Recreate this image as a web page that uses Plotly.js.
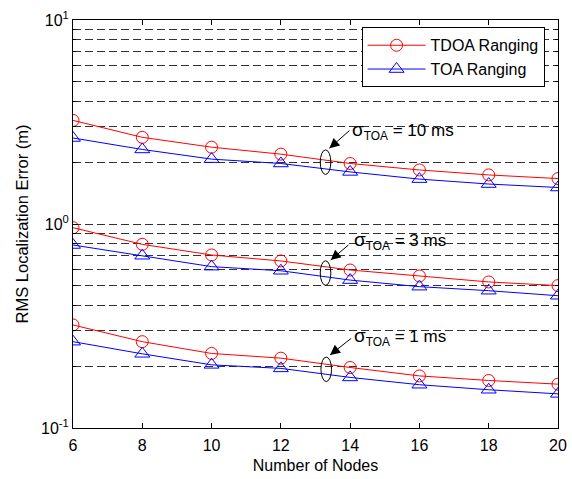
<!DOCTYPE html>
<html>
<head>
<meta charset="utf-8">
<script src="https://cdn.plot.ly/plotly-3.0.1.min.js"></script>
<style>html,body{margin:0;padding:0;background:#fff;}#chart{width:572px;height:479px;}</style>
</head>
<body>
<div id="chart"></div>
<script>
// Data
const nodes = [6, 8, 10, 12, 14, 16, 18, 20];

const tdoa10 = [3.22, 2.66, 2.38, 2.20, 1.98, 1.84, 1.74, 1.67];
const toa10  = [2.64, 2.32, 2.08, 1.98, 1.80, 1.66, 1.57, 1.51];
const tdoa3  = [0.959, 0.795, 0.705, 0.659, 0.595, 0.556, 0.520, 0.499];
const toa3   = [0.789, 0.699, 0.618, 0.590, 0.531, 0.493, 0.471, 0.445];
const tdoa1  = [0.320, 0.265, 0.232, 0.220, 0.198, 0.180, 0.171, 0.164];
const toa1   = [0.265, 0.231, 0.204, 0.196, 0.177, 0.163, 0.154, 0.147];

const xTicks = [6, 8, 10, 12, 14, 16, 18, 20];
const yMajor = [0.1, 1, 10];
const yMajorText = ['10<sup>-1</sup>', '10<sup>0</sup>', '10<sup>1</sup>'];
const yMinor = [0.2,0.3,0.4,0.5,0.6,0.7,0.8,0.9,2,3,4,5,6,7,8,9];

// sigma annotations: labels, ellipse centres, arrow tips/tails, text positions
const sigmaLabels = ['10 ms', '3 ms', '1 ms'];
const ellX = [13.29, 13.29, 13.31];
const ellY = [2.01, 0.575, 0.194];
const tipX = [13.40, 13.44, 13.42];
const tipY = [2.35, 0.666, 0.228];
const tailX = [13.98, 13.95, 14.03];
const tailY = [2.87, 0.789, 0.275];
const textX = [14.0, 14.05, 14.05];
const textY = [2.85, 0.83, 0.279];

const FONT = 'Liberation Sans, Arial, Helvetica, sans-serif';

function series(y, isTdoa, show) {
  const c = isTdoa ? '#ff0000' : '#0000ff';
  return {
    x: nodes, y: y, type: 'scatter', mode: 'lines+markers',
    name: isTdoa ? 'TDOA Ranging' : 'TOA Ranging',
    showlegend: show,
    legendgroup: isTdoa ? 'tdoa' : 'toa',
    line: {color: c, width: 1},
    marker: {
      symbol: isTdoa ? 'circle-open' : 'triangle-up-open',
      size: isTdoa ? 12 : 13,
      color: c,
      line: {width: 1, color: c}
    }
  };
}

const data = [
  series(tdoa10, true, true), series(toa10, false, true),
  series(tdoa3, true, false), series(toa3, false, false),
  series(tdoa1, true, false), series(toa1, false, false)
];

// ellipse half-sizes (approx 5 px wide, 12 px tall half-axes)
const ellHalfX = 0.153;
const ellFactor = Math.pow(10, 0.06);

const shapes = [];
const annotations = [];
for (let i = 0; i < sigmaLabels.length; i++) {
  shapes.push({
    type: 'circle', xref: 'x', yref: 'y',
    x0: ellX[i] - ellHalfX, x1: ellX[i] + ellHalfX,
    y0: ellY[i] / ellFactor, y1: ellY[i] * ellFactor,
    line: {color: '#000', width: 1}
  });
  // arrow shaft
  shapes.push({
    type: 'line', xref: 'x', yref: 'y',
    x0: tailX[i], y0: tailY[i], x1: tipX[i], y1: tipY[i],
    line: {color: '#000', width: 1}
  });
  // arrow head (short arrow along the same direction)
  const hx = tipX[i] + 0.3 * (tailX[i] - tipX[i]);
  const hy = Math.log10(tipY[i]) + 0.3 * (Math.log10(tailY[i]) - Math.log10(tipY[i]));
  annotations.push({
    x: tipX[i], y: Math.log10(tipY[i]), xref: 'x', yref: 'y',
    axref: 'x', ayref: 'y', ax: hx, ay: hy,
    text: ' ', font: {size: 1}, borderpad: 0,
    showarrow: true, arrowhead: 2, arrowsize: 2, arrowwidth: 1,
    arrowcolor: '#000', standoff: 0
  });
  annotations.push({
    x: textX[i], y: Math.log10(textY[i]), xref: 'x', yref: 'y',
    text: '<span style="font-size:19px">σ</span><sub>TOA</sub> = ' + sigmaLabels[i],
    showarrow: false, xanchor: 'left', yanchor: 'middle',
    font: {family: FONT, size: 17, color: '#000'}
  });
}

const layout = {
  width: 572, height: 479,
  margin: {l: 73, r: 14, t: 20, b: 51},
  paper_bgcolor: '#fff', plot_bgcolor: '#fff',
  font: {family: FONT, size: 16, color: '#000'},
  showlegend: true,
  legend: {
    x: 0.595, y: 0.982, xanchor: 'left', yanchor: 'top',
    bgcolor: '#fff', bordercolor: '#000', borderwidth: 1,
    font: {family: FONT, size: 16, color: '#000'},
    tracegroupgap: 0, itemwidth: 58
  },
  xaxis: {
    range: [6, 20], tickvals: xTicks, ticktext: xTicks.map(String),
    ticks: 'inside', ticklen: 5, tickcolor: '#000', mirror: 'ticks',
    showline: true, linecolor: '#000', linewidth: 1,
    showgrid: false, zeroline: false, ticklabelstandoff: 3,
    title: {text: 'Number of Nodes', font: {family: FONT, size: 16}, standoff: 6},
    tickfont: {family: FONT, size: 16}
  },
  yaxis: {
    type: 'log', range: [-1, 1],
    tickvals: yMajor, ticktext: yMajorText,
    ticks: 'inside', ticklen: 5, tickcolor: '#000', mirror: 'ticks',
    showline: true, linecolor: '#000', linewidth: 1,
    showgrid: true, gridcolor: '#333', gridwidth: 1, griddash: '8px,4px',
    zeroline: false,
    minor: {tickvals: yMinor, ticks: 'inside', ticklen: 3, tickcolor: '#000',
            showgrid: true, gridcolor: '#333', gridwidth: 1, griddash: '8px,4px'},
    title: {text: 'RMS Localization Error (m)', font: {family: FONT, size: 16.5}, standoff: 8},
    tickfont: {family: FONT, size: 16}
  },
  shapes: shapes,
  annotations: annotations
};

Plotly.newPlot('chart', data, layout, {displayModeBar: false, staticPlot: true});
</script>
</body>
</html>
